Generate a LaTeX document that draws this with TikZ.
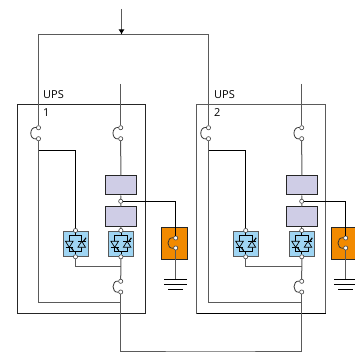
\documentclass[tikz,border=0pt]{standalone}
\usepackage{fontspec}
\setmainfont{Open Sans}
\usetikzlibrary{calc}
\usetikzlibrary{arrows, arrows.meta}
\definecolor{lilac}{HTML}{CFCDE6}
\definecolor{skyblue}{HTML}{9FD5F3}
\definecolor{breakerorange}{HTML}{F28A00}
\definecolor{wiregray}{HTML}{5A5A5A}
\newcommand{\breaker}[4]{%
	\node[terminal] (#1t) at (#2,#3) {};
	\node[terminal] (#1b) at (#2,#4) {};
	\draw[arcline] (#1t) .. controls +(-9.5,-1) and +(-9.5,1) .. (#1b);
}
\newcommand{\valve}[3]{%
	\node[valvebox] (#1) at (#2,#3) {};
	\draw[thin line] ($(#1)+(-6.2,-8)$) rectangle ($(#1)+(6.2,8)$);
	\draw[thin line,fill=skyblue] ($(#1)+(-10,-2.5)$) -- ($(#1)+(-2.4,-2.5)$) -- ($(#1)+(-6.2,3.5)$) -- cycle;
	\draw[thin line] ($(#1)+(-10,3.5)$) -- ($(#1)+(-2.4,3.5)$);
	\draw[gate line] ($(#1)+(-4.5,3.5)$) -- ($(#1)+(-2,7)$);
	\draw[thin line,fill=skyblue] ($(#1)+(2.4,3.5)$) -- ($(#1)+(10,3.5)$) -- ($(#1)+(6.2,-2.5)$) -- cycle;
	\draw[thin line] ($(#1)+(2.4,-2.5)$) -- ($(#1)+(10,-2.5)$);
	\draw[gate line] ($(#1)+(8,-2.5)$) -- ($(#1)+(10.5,-6)$);
	\node[terminal] (#1t) at ($(#1)+(0,-13.3)$) {};
	\node[terminal] (#1b) at ($(#1)+(0,13)$) {};
	\draw[thin line] (#1t) -- ($(#1)+(0,-8)$);
	\draw[thin line] (#1b) -- ($(#1)+(0,8)$);
}
\newcommand{\earth}[4]{%
	\coordinate (#1) at (#2,#3);
	\draw[thin line] ($(#1)+(-#4,0)$) -- ($(#1)+(#4,0)$);
	\draw[thin line] ($(#1)+(-#4,5.3)$) -- ($(#1)+(#4,5.3)$);
	\draw[thin line] ($(#1)+(-7.5,10)$) -- ($(#1)+(7.5,10)$);
}
\begin{document}
\begin{tikzpicture}[
		x=1pt,y=-1pt,
		>=latex,
		wire/.style={line width=1pt,wiregray},
		signal/.style={line width=0.9pt,black},
		arcline/.style={line width=0.8pt,black!80},
		thin line/.style={line width=0.7pt,black},
		gate line/.style={line width=1.1pt,black},
		upsbox/.style={draw=black!85,line width=0.95pt},
		terminal/.style={circle,draw=black!75,fill=white,line width=0.6pt,inner sep=0pt,minimum size=4.2pt},
		converter/.style={draw=black!85,fill=lilac,line width=1pt,minimum width=30.5pt,minimum height=19pt,inner sep=0pt},
		valvebox/.style={draw=black!65,fill=skyblue,line width=1pt,minimum width=25pt,minimum height=25pt,inner sep=0pt},
		breakerbox/.style={draw=black!85,fill=breakerorange,line width=0.9pt,inner sep=0pt},
		label/.style={inner sep=0pt,anchor=base west,font=\fontsize{11}{13}\selectfont},
	]
	\clip (0,0) rectangle (355,352);
	% UPS housings
	\draw[upsbox] (17,104.5) rectangle (145,313);
	\draw[upsbox,draw=wiregray] (196.7,104.5) rectangle (325.7,313);
	\draw[signal] (196.7,313) -- (325.7,313);
	\node[label] (upsA) at (43,99) {UPS};
	\node[label] (numA) at (43,117) {1};
	\node[label] (upsB) at (214,99) {UPS};
	\node[label] (numB) at (214,117) {2};
	% UPS 1
	\node[breakerbox,minimum width=26pt,minimum height=32.4pt] (orangeA) at (174.3,243.5) {};
	\node[converter] (rectA) at (120.8,185.5) {};
	\node[converter] (invA) at (120.8,216.5) {};
	\valve{statA}{75.5}{243.8}
	\valve{bridgeA}{120.9}{243.8}
	\node[terminal] (dcA) at (120.7,201.3) {};
	\breaker{byA}{38.5}{127.7}{138.7}
	\breaker{inA}{120.7}{127.7}{138.7}
	\breaker{outA}{120.7}{281.3}{292}
	\breaker{mbA}{175.7}{238}{248}
	\earth{gndA}{175.7}{279}{11.5}
	% UPS 2
	\node[breakerbox,minimum width=26pt,minimum height=32.4pt] (orangeB) at (344.7,243.5) {};
	\node[converter] (rectB) at (301.8,185.5) {};
	\node[converter] (invB) at (301.8,216.5) {};
	\valve{statB}{245.7}{243.8}
	\valve{bridgeB}{301.8}{243.8}
	\node[terminal] (dcB) at (301.7,201.3) {};
	\breaker{byB}{208.5}{127.7}{138.7}
	\breaker{inB}{301.7}{127.7}{138.7}
	\breaker{outB}{301.7}{281.3}{292}
	\breaker{mbB}{345.7}{238}{248}
	\earth{gndB}{345.7}{279}{11.5}
	% wiring
	\coordinate (feed) at (121.5,9);
	\coordinate (busL) at (38.5,34.5);
	\coordinate (busR) at (208.5,34.5);
	\coordinate (tap) at (121.5,34.5);
	\coordinate (loadA) at (120.7,84);
	\coordinate (loadB) at (301.7,84);
	\coordinate (linkA) at (120.7,266);
	\coordinate (linkB) at (301.7,266);
	\coordinate (joinA) at (120.7,302);
	\coordinate (joinB) at (301.7,302);
	\coordinate (pickA) at (38.5,150.5);
	\coordinate (pickB) at (208.5,150.5);
	\draw[wire] (busL) -- (busR);
	\draw[wire,-{Latex[length=5pt,width=6pt,black]}] (feed) -- (tap);
	\draw[wire] (busL) -- (byAt);
	\draw[wire] (busR) -- (byBt);
	\draw[wire] (loadA) -- (inAt);
	\draw[wire] (loadB) -- (inBt);
	\draw[wire] (inAb) -- (rectA.north);
	\draw[wire] (inBb) -- (rectB.north);
	\draw[wire] (invA.south) -- (bridgeAt);
	\draw[wire] (invB.south) -- (bridgeBt);
	\draw[wire] (bridgeAb) -- (outAt);
	\draw[wire] (bridgeBb) -- (outBt);
	\draw[wire] (statAb) |- (linkA);
	\draw[wire] (statBb) |- (linkB);
	\draw[wire] (byAb) |- (joinA);
	\draw[wire] (byBb) |- (joinB);
	\draw[wire] (outAb) |- (210,351) -| (outBb);
	\draw[signal] (pickA) -| (statAt);
	\draw[signal] (pickB) -| (statBt);
	\draw[signal] (dcA) -| (mbAt);
	\draw[signal] (dcB) -| (mbBt);
	\draw[wire] (mbAb) -- (gndA);
	\draw[wire] (mbBb) -- (gndB);
	\draw[wire] (rectA.south) -- (dcA);
	\draw[wire] (invA.north) -- (dcA);
	\draw[wire] (rectB.south) -- (dcB);
	\draw[wire] (invB.north) -- (dcB);
\end{tikzpicture}
\end{document}
